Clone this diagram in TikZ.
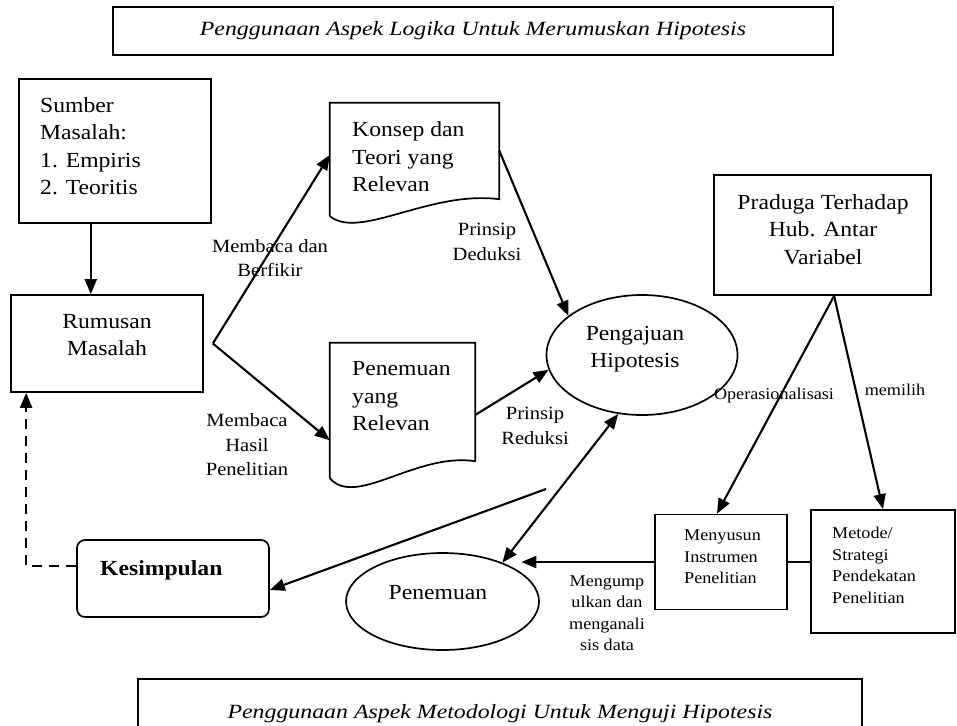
\documentclass[tikz,border=0pt]{standalone}
\usepackage{fontspec}
\setmainfont{Liberation Serif}[FakeStretch=1.1]
\newfontfamily\headingfont{Liberation Serif}[FakeStretch=1.18]
\usetikzlibrary{arrows.meta,shapes.geometric,calc}

\newcommand{\bodysize}{\fontsize{21.5}{27.5}\selectfont}
\newcommand{\notesize}{\fontsize{18.7}{24.5}\selectfont}
\newcommand{\smallsize}{\fontsize{16.5}{21.5}\selectfont}
\newcommand{\headsize}{\fontsize{20.2}{24}\selectfont}

\begin{document}
\begin{tikzpicture}[x=1pt,y=-1pt,
  frame/.style={draw, line width=1.7pt, inner sep=0pt},
  hidden/.style={inner sep=0pt},
  oval/.style={draw, ellipse, line width=1.7pt, inner sep=0pt},
  bodytext/.style={font=\bodysize, inner sep=0pt, align=left},
  centertext/.style={font=\bodysize, inner sep=0pt, align=center},
  note/.style={font=\notesize, inner sep=0pt, align=center},
  smallnote/.style={font=\smallsize, inner sep=0pt, align=center},
  smalltext/.style={font=\smallsize, inner sep=0pt, align=left},
  headtext/.style={font=\headingfont\itshape\headsize},
  arr/.style={line width=2.1pt, -{Triangle[length=15pt,width=12pt]}},
  twoway/.style={line width=2.1pt, {Triangle[length=15pt,width=12pt]}-{Triangle[length=15pt,width=12pt]}},
  link/.style={line width=2.1pt},
  dashlink/.style={line width=2.1pt, dash pattern=on 10pt off 7pt, -{Triangle[length=15pt,width=12pt]}}
]
\useasboundingbox (0,0) rectangle (957,725);

% heading frames
\node[frame, minimum width=720pt, minimum height=48pt, headtext] (logika) at (473,31)
  {Penggunaan Aspek Logika Untuk Merumuskan Hipotesis};
\node[frame, minimum width=724pt, minimum height=70pt, headtext] (metodologi) at (500,714)
  {Penggunaan Aspek Metodologi Untuk Menguji Hipotesis};

% left column
\node[frame, minimum width=192pt, minimum height=144pt] (sumber) at (115,151) {};
\node[bodytext, anchor=west] (sumbertext) at (40,146) {Sumber\\Masalah:\\1. Empiris\\2. Teoritis};

\node[frame, minimum width=192pt, minimum height=97pt] (rumusan) at (107,343.5) {};
\node[centertext] (rumusantext) at (107,335) {Rumusan\\Masalah};

\node[frame, rounded corners=8pt, minimum width=192pt, minimum height=77pt] (kesimpulan) at (173,578.5) {};
\node[bodytext, font=\bodysize\bfseries, anchor=west] (kesimpulantext) at (100,570) {Kesimpulan};

% document-shaped sources
\node[hidden, minimum width=169pt, minimum height=113pt] (konsep) at (414.5,159.5) {};
\draw[line width=1.7pt] (konsep.south west) -- (konsep.north west) -- (konsep.north east)
  -- ($(konsep.south east)+(0,-17)$)
  .. controls ($(konsep.south west)+(100,-26)$) and ($(konsep.south west)+(30,24)$) .. (konsep.south west);
\node[bodytext, anchor=west] (konseptext) at (352,157) {Konsep dan\\Teori yang\\Relevan};

\node[hidden, minimum width=145pt, minimum height=135pt] (temuan) at (402.5,410.5) {};
\draw[line width=1.7pt] (temuan.south west) -- (temuan.north west) -- (temuan.north east)
  -- ($(temuan.south east)+(0,-17)$)
  .. controls ($(temuan.south west)+(86,-26)$) and ($(temuan.south west)+(26,30)$) .. (temuan.south west);
\node[bodytext, anchor=west] (temuantext) at (352,396.5) {Penemuan\\yang\\Relevan};

% ovals
\node[oval, minimum width=191pt, minimum height=120pt] (pengajuan) at (642,355) {};
\node[centertext] (pengajuantext) at (635,349) {Pengajuan\\Hipotesis};

\node[oval, minimum width=193pt, minimum height=97pt] (penemuan) at (442.5,601.5) {};
\node[centertext] (penemuantext) at (438,593) {Penemuan};

% right column
\node[frame, minimum width=217pt, minimum height=120pt] (praduga) at (822.5,235) {};
\node[centertext] (pradugatext) at (823,229.5) {Praduga Terhadap\\Hub. Antar\\Variabel};

\node[frame, minimum width=132pt, minimum height=95pt] (menyusun) at (721,562) {};
\node[smalltext, anchor=west] (menyusuntext) at (684,557) {Menyusun\\Instrumen\\Penelitian};

\node[frame, minimum width=144pt, minimum height=123pt] (metode) at (883,571.5) {};
\node[smalltext, anchor=west] (metodetext) at (832,565.5) {Metode/\\Strategi\\Pendekatan\\Penelitian};

% connector end points
\coordinate (sumberfoot) at ($(sumber.south west)!0.375!(sumber.south east)$);
\coordinate (fork) at ($(rumusan.east)+(9,0)$);
\coordinate (pradugafoot) at ($(praduga.south west)!0.553!(praduga.south east)$);
\coordinate (hasil) at (546,489);
\coordinate (penemuantip) at ($(penemuan.north east)+(10,0)$);
\coordinate (rumusanfoot) at ($(rumusan.south west)+(16,0)$);

% connectors
\draw[arr] (sumberfoot) -- (sumberfoot |- rumusan.north);
\draw[arr] (fork) -- ($(konsep.north west)!0.46!(konsep.south west)$);
\draw[arr] (fork) -- ($(temuan.north west)!0.72!(temuan.south west)$);
\draw[arr] ($(konsep.north east)!0.42!(konsep.south east)$) -- (pengajuan.152.8);
\draw[arr] ($(temuan.north east)!0.533!(temuan.south east)$) -- (pengajuan.189);
\draw[arr] (pradugafoot) -- ($(menyusun.north west)!0.47!(menyusun.north east)$);
\draw[arr] (pradugafoot) -- (metode.north);
\draw[link] (menyusun.east) -- (menyusun.east -| metode.west);
\draw[arr] (menyusun.west) -- (menyusun.west -| penemuantip);
\draw[twoway] (pengajuan.248.5) -- (penemuan.33.1);
\draw[arr] (hasil) -- ($(kesimpulan.east)+(0,11.5)$);
\draw[dashlink] ($(kesimpulan.west)+(0,-12.5)$) -| (rumusanfoot);

% connector labels
\node[note] (lbaca) at (270,258) {Membaca dan\\Berfikir};
\node[note] (ldeduksi) at (487,242) {Prinsip\\Deduksi};
\node[note] (lhasil) at (247,445) {Membaca\\Hasil\\Penelitian};
\node[note] (lreduksi) at (535,426) {Prinsip\\Reduksi};
\node[smallnote] (loperasi) at (774,396) {Operasionalisasi};
\node[smallnote] (lpilih) at (895,390) {memilih};
\node[smallnote] (lkumpul) at (607,613) {Mengump\\ulkan dan\\menganali\\sis data};
\end{tikzpicture}
\end{document}
